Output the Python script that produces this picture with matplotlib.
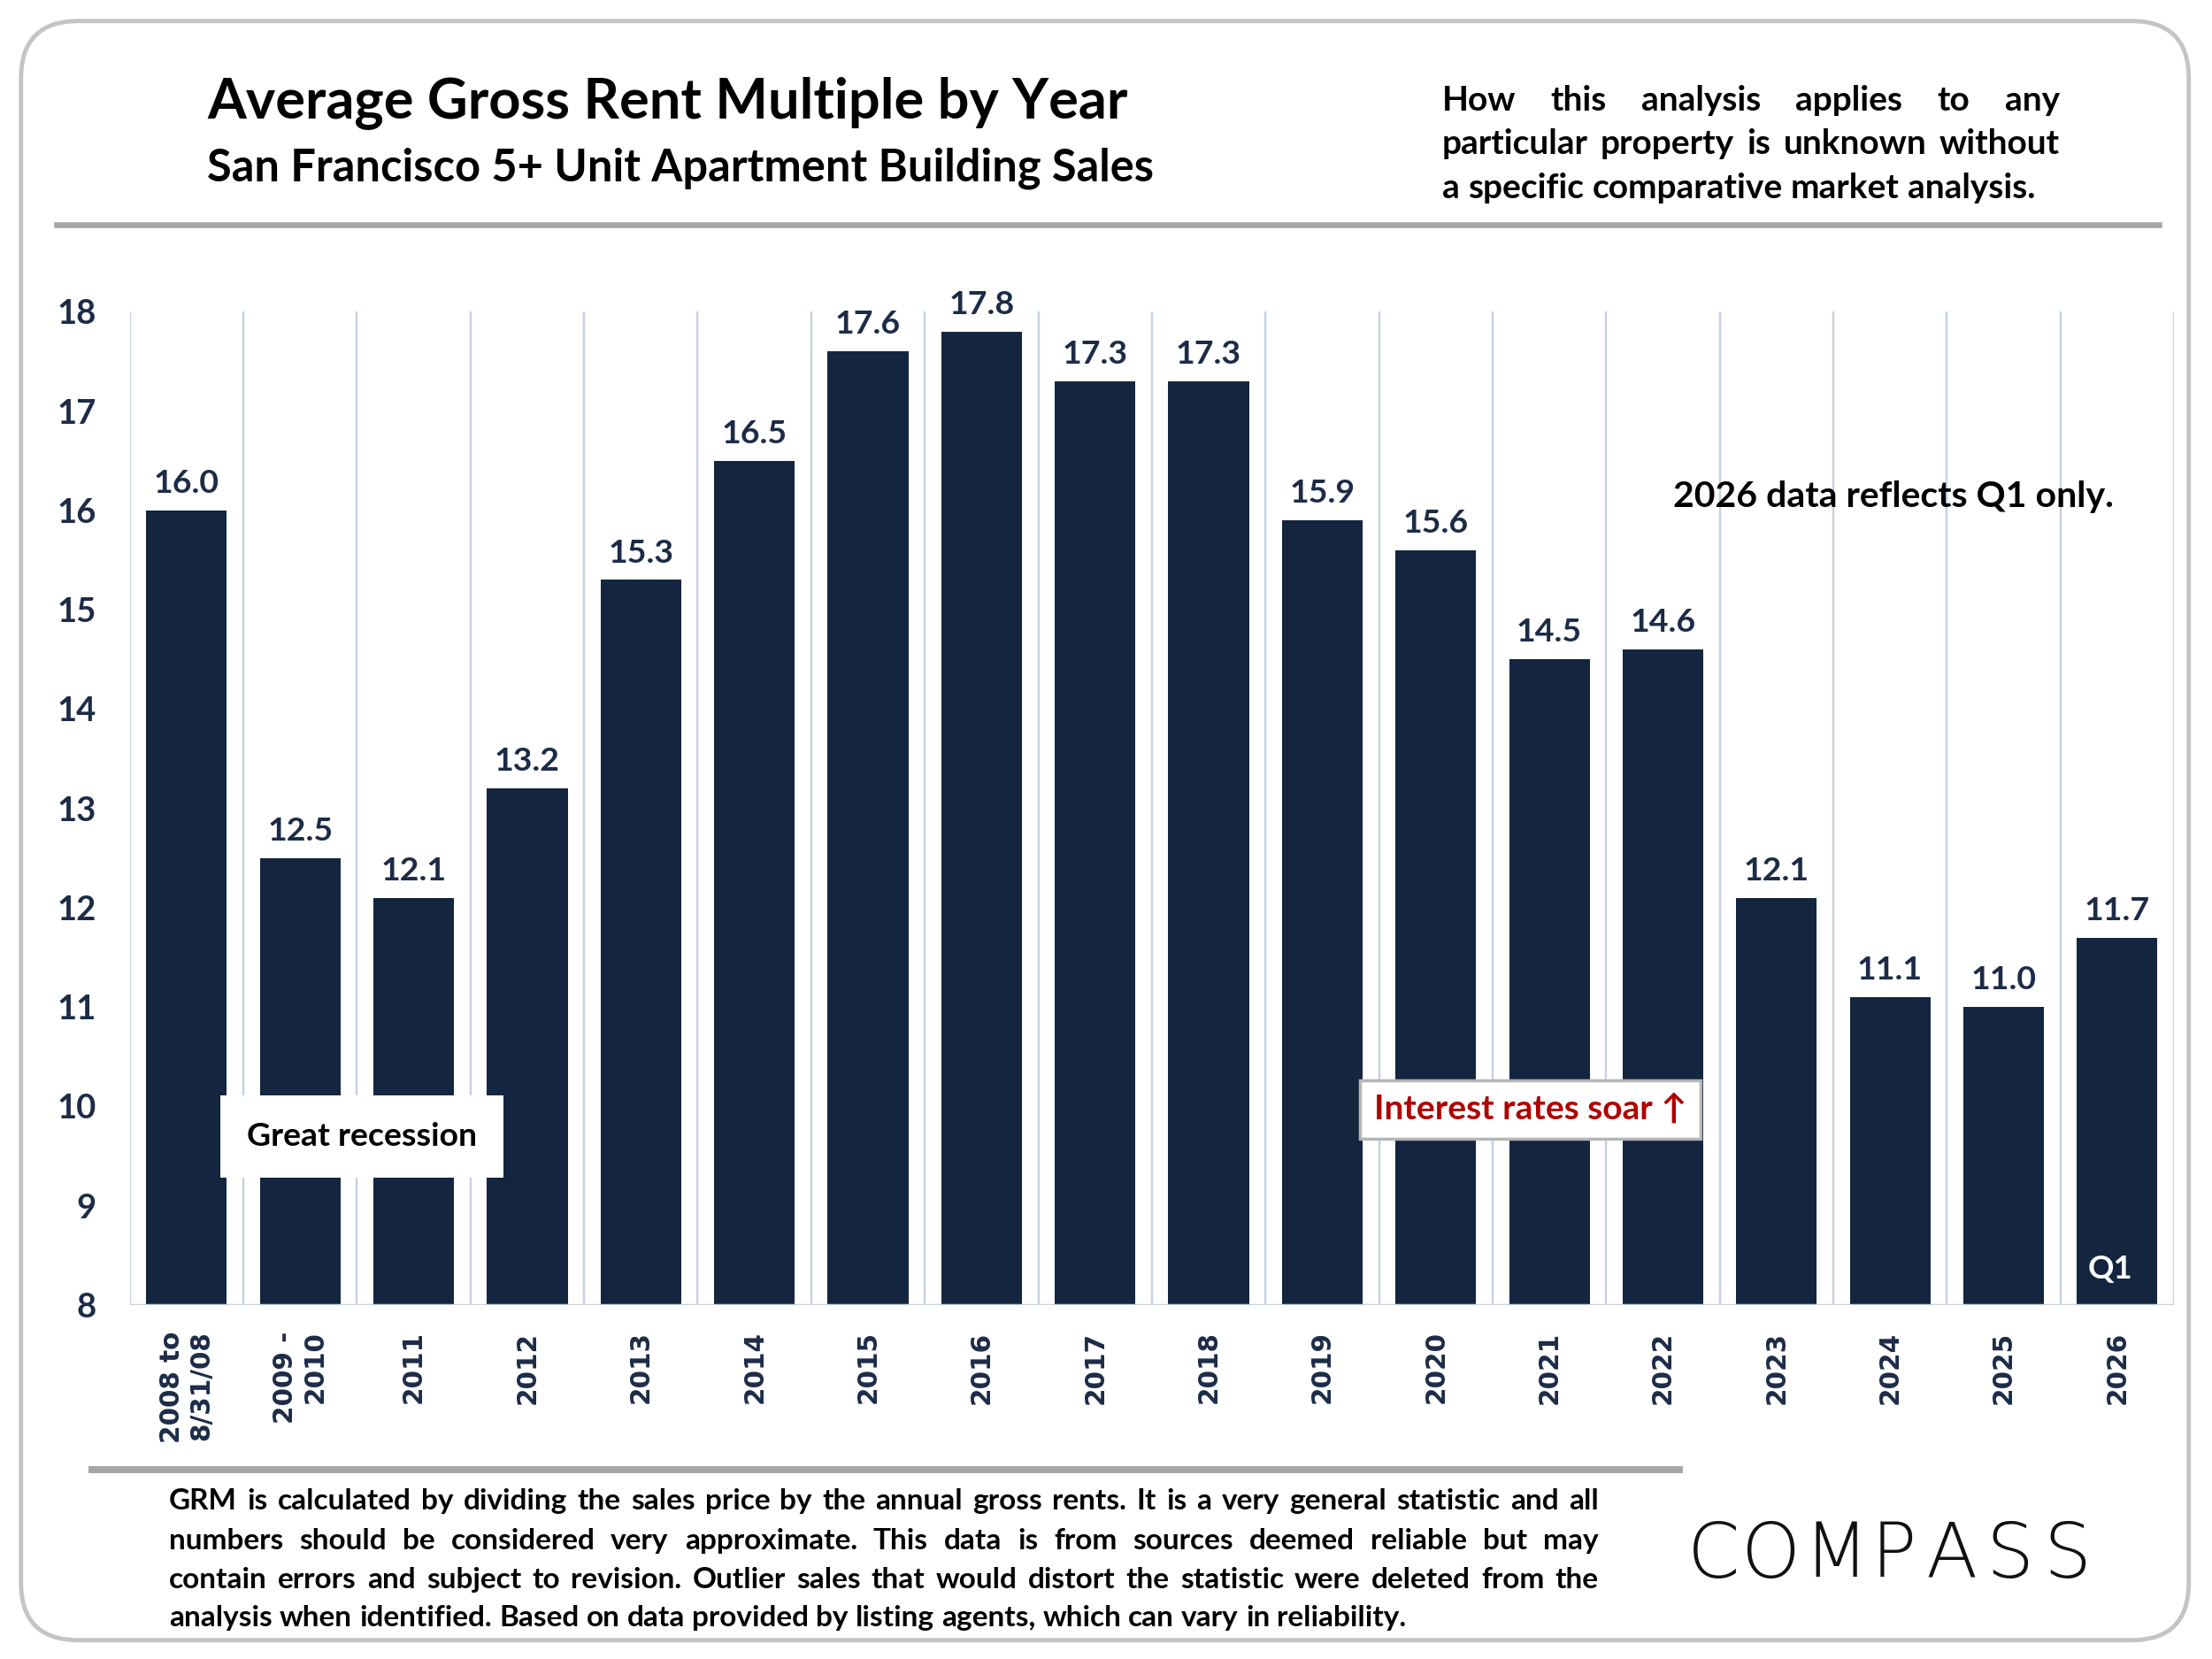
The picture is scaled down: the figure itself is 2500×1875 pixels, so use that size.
import numpy as np
import matplotlib.pyplot as plt
from matplotlib.patches import FancyBboxPatch
from matplotlib.lines import Line2D

plt.rcParams['font.family'] = ['Lato', 'DejaVu Sans']

#===============================================================================
# Data

categories = ['2008 to\n8/31/08', '2009 -\n2010', '2011', '2012', '2013', '2014',
              '2015', '2016', '2017', '2018', '2019', '2020', '2021', '2022',
              '2023', '2024', '2025', '2026']
grm = [16.0, 12.5, 12.1, 13.2, 15.3, 16.5, 17.6, 17.8, 17.3, 17.3,
       15.9, 15.6, 14.5, 14.6, 12.1, 11.1, 11.0, 11.7]
yticks = list(range(8, 19))

title = 'Average Gross Rent Multiple by Year'
subtitle = 'San Francisco 5+ Unit Apartment Building Sales'
note_lines = ['How this analysis applies to any',
              'particular property is unknown without',
              'a specific comparative market analysis.']
footer_lines = ['GRM is calculated by dividing the sales price by the annual gross rents. It is a very general statistic and all',
                'numbers should be considered very approximate. This data is from sources deemed reliable but may',
                'contain errors and subject to revision. Outlier sales that would distort the statistic were deleted from the',
                'analysis when identified. Based on data provided by listing agents, which can vary in reliability.']

bar_color = '#13253f'
navy = '#1c2b47'
grid_color = '#c6d1e1'

#===============================================================================
# Figure

fig = plt.figure(figsize=(10, 7.5), dpi=250)
fig.patch.set_facecolor('white')

# rounded frame
frame = FancyBboxPatch((0.095, 0.085), 9.8, 7.32,
                       boxstyle='round,pad=0,rounding_size=0.26',
                       transform=fig.dpi_scale_trans, facecolor='none',
                       edgecolor='#c4c4c4', linewidth=1.4, zorder=0)
fig.patches.append(frame)

ax = fig.add_axes([0.0587, 0.2134, 0.9241, 0.5987])
x = np.arange(len(categories))
ax.bar(x, grm, width=0.71, color=bar_color, zorder=3)
ax.set_xlim(-0.5, len(categories) - 0.5)
ax.set_ylim(8, 18)
ax.vlines(np.arange(len(categories) + 1) - 0.5, 8, 18, color=grid_color, lw=0.7, zorder=1)
ax.axhline(8, color=grid_color, lw=1.0, zorder=4)
for s in ax.spines.values():
    s.set_visible(False)

ax.set_yticks(yticks)
ax.set_yticklabels([str(v) for v in yticks], fontsize=11, fontweight='bold', color=navy)
ax.tick_params(axis='y', length=0, pad=11)
ax.set_xticks(x)
ax.set_xticklabels(categories, rotation=90, fontsize=8.5, fontweight='bold', color=navy,
                   family='DejaVu Sans', va='top', ha='center', multialignment='right')
ax.tick_params(axis='x', length=0, pad=8.5)

for xi, v in zip(x, grm):
    ax.annotate(f'{v:.1f}', (xi, v), xytext=(0, 4), textcoords='offset points',
                ha='center', va='bottom', fontsize=10.8, fontweight='bold', color=navy)

# annotations
ax.text(1.54, 9.70, 'Great recession', ha='center', va='center', fontsize=10.8,
        fontweight='bold', color='black', zorder=6,
        bbox=dict(boxstyle='square,pad=0.8', facecolor='white', edgecolor='none'))
ax.text(11.83, 9.97, 'Interest rates soar \u2191', ha='center', va='center', fontsize=11.2,
        fontweight='bold', color='#b00000', zorder=6,
        bbox=dict(boxstyle='square,pad=0.4', facecolor='white', edgecolor='#b5b5b5', lw=1.0))
ax.text(15.03, 16.14, '2026 data reflects Q1 only.', ha='center', va='center', fontsize=11.8,
        fontweight='bold', color='black', zorder=6)
ax.text(16.94, 8.36, 'Q1', ha='center', va='center', fontsize=10.5, fontweight='bold',
        color='white', zorder=6)

# titles
fig.text(0.0938, 0.929, title, fontsize=18.2, fontweight='bold', color='black', va='baseline')
fig.text(0.0938, 0.891, subtitle, fontsize=14.6, fontweight='bold', color='black', va='baseline')

# separator lines
fig.add_artist(Line2D([0.0255, 0.9758], [0.8648, 0.8648], color='#a6a6a6', lw=1.9))
fig.add_artist(Line2D([0.0415, 0.759], [0.1139, 0.1139], color='#a6a6a6', lw=2.3))


def justified(lines, x0, x1, ys, size, last_plain=True):
    renderer = fig.canvas.get_renderer()
    a = fig.text(0, 0, 'a b', fontsize=size, fontweight='bold')
    b = fig.text(0, 0, 'ab', fontsize=size, fontweight='bold')
    sw = (a.get_window_extent(renderer).width - b.get_window_extent(renderer).width) / fig.bbox.width
    a.remove()
    b.remove()
    for k, (line, y) in enumerate(zip(lines, ys)):
        words = line.split()
        texts = [fig.text(0, y, w, fontsize=size, fontweight='bold', color='black',
                          ha='left', va='center') for w in words]
        widths = [t.get_window_extent(renderer).width / fig.bbox.width for t in texts]
        if last_plain and k == len(lines) - 1:
            gap = sw
        else:
            gap = (x1 - x0 - sum(widths)) / max(len(words) - 1, 1)
        pos = x0
        for t, w in zip(texts, widths):
            t.set_x(pos)
            pos += w + gap


justified(note_lines, 0.6518, 0.9311, [0.9396, 0.9133, 0.8869], 11.2)
justified(footer_lines, 0.0765, 0.7226, [0.0952, 0.0714, 0.0476, 0.0247], 9.6)

# logo
for i, ch in enumerate('COMPASS'):
    fig.text(0.7745 + 0.0262 * i + (0.003 if i > 1 else 0), 0.062, ch, fontsize=24.5,
             family='DejaVu Sans', fontweight='light', color='#111111', ha='center', va='center')

fig.savefig('out.png', dpi=250, facecolor='white')
